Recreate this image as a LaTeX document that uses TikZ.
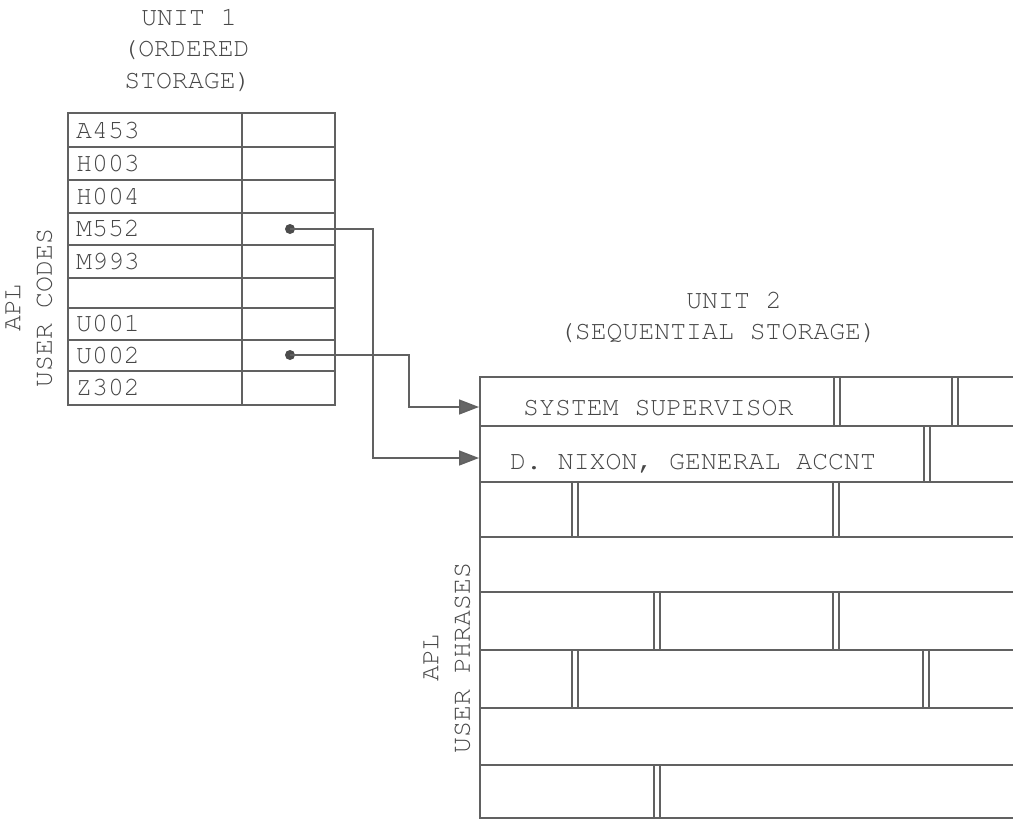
\documentclass[tikz,border=0pt]{standalone}
\usepackage[T1]{fontenc}
\usepackage{courier}
\usetikzlibrary{arrows.meta}
\tikzset{
  ink/.style={draw=black!62, line width=1.6pt},
  tw/.style={font=\ttfamily\fontsize{26.5}{31.5}\selectfont, text=black!72, inner sep=0pt},
  dotnode/.style={circle, fill=black!70, minimum size=10pt, inner sep=0pt},
  conn/.style={ink, -{Triangle[length=20pt,width=15pt,fill=black!60]}},
  brickgap/.style={ink, line width=1.4pt}
}
\begin{document}
\begin{tikzpicture}[x=1pt,y=-1pt]
\useasboundingbox (0,0) rectangle (1013,828);

% ---------- Unit 1 ----------
\node[tw, anchor=base] (t1a) at (189,25) {UNIT 1};
\node[tw, anchor=base] (t1b) at (186,56.5) {(ORDERED};
\node[tw, anchor=base] (t1c) at (188,88) {STORAGE)};

\draw[ink] (68,113) rectangle (335,405);
\draw[ink] (242,113) -- (242,405);
\foreach \y in {147,180,213,245,278,308,340,371}
  \draw[ink] (68,\y) -- (335,\y);

\foreach \t/\y [count=\i] in {A453/131, H003/163.5, H004/196.5, M552/229, M993/261.5, U001/324, U002/355.5, Z302/387.5}
  \node[tw, anchor=base west] (c\i) at (76,\y+7.5) {\t};

\node[tw, align=center, rotate=90] (lab1) at (29,308) {APL\\USER CODES};

% ---------- Unit 2 ----------
\node[tw, anchor=base] (t2a) at (734,308) {UNIT 2};
\node[tw, anchor=base] (t2b) at (718,339.5) {(SEQUENTIAL STORAGE)};

\draw[ink] (1013,377) -- (480,377) -- (480,818) -- (1013,818);
\foreach \y in {426,482,537,592,650,708,765}
  \draw[ink] (480,\y) -- (1013,\y);

\foreach \x/\ya/\yb in {837/377/426, 955/377/426, 927/426/482,
                       575/482/537, 836/482/537,
                       657/592/650, 836/592/650,
                       575/650/708, 926/650/708,
                       657/765/818}
  \draw[brickgap] (\x-3,\ya) -- (\x-3,\yb) (\x+3,\ya) -- (\x+3,\yb);

\node[tw, anchor=base west] (p1) at (523,415.5) {SYSTEM SUPERVISOR};
\node[tw, anchor=base west] (p2) at (510,469.5) {D. NIXON, GENERAL ACCNT};

\node[tw, align=center, rotate=90] (lab2) at (447,658) {APL\\USER PHRASES};

% ---------- connectors ----------
\node[dotnode] (dM) at (290,229) {};
\node[dotnode] (dU) at (290,355) {};
\coordinate (bM) at (373,229);
\coordinate (bU) at (409,355);
\coordinate (inS) at (479,407);
\coordinate (inD) at (479,458);
\draw[conn] (dM.center) -- (bM) |- (inD);
\draw[conn] (dU.center) -- (bU) |- (inS);
\end{tikzpicture}
\end{document}
